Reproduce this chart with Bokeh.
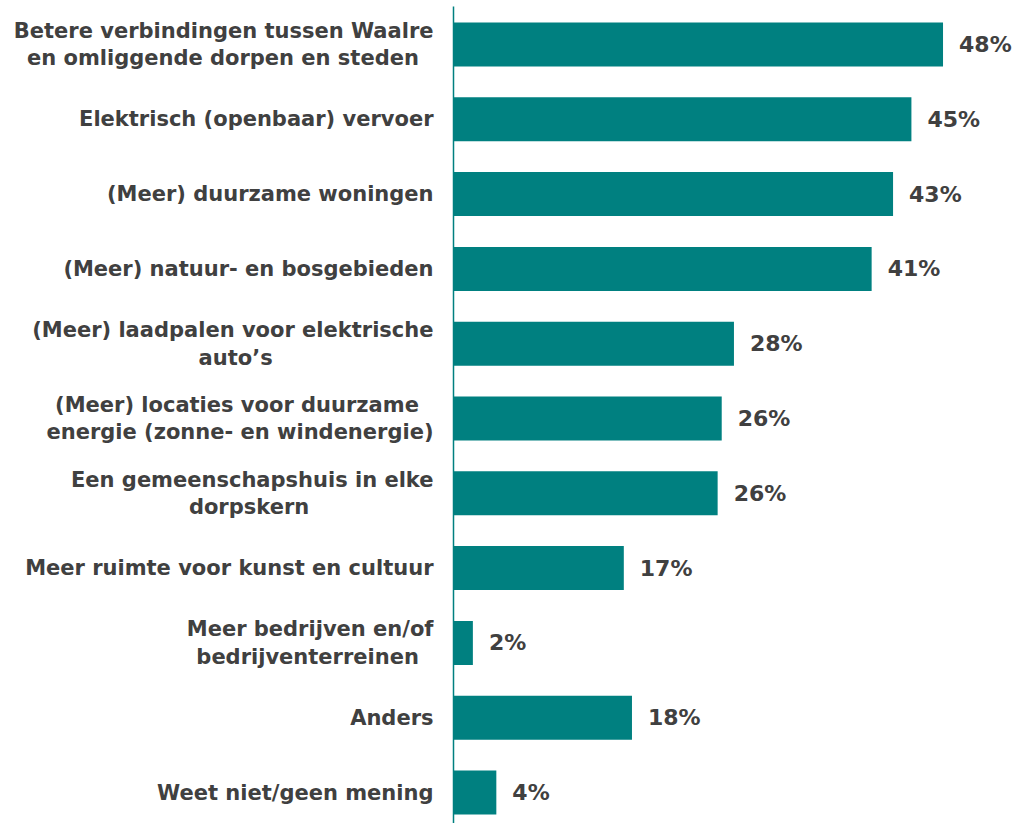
from bokeh.plotting import figure
from bokeh.models import ColumnDataSource, Range1d, FixedTicker
from bokeh.core.properties import value
from bokeh.embed import file_html
from bokeh.resources import INLINE

NB = "\u00a0"

categories = [
    "Betere verbindingen tussen Waalre\nen omliggende dorpen en steden" + NB * 2,
    "Elektrisch (openbaar) vervoer",
    "(Meer) duurzame woningen",
    "(Meer) natuur- en bosgebieden",
    "(Meer) laadpalen voor elektrische\nauto\u2019s" + NB * 22,
    "(Meer) locaties voor duurzame" + NB * 2 + "\nenergie (zonne- en windenergie)",
    "Een gemeenschapshuis in elke\ndorpskern" + NB * 17,
    "Meer ruimte voor kunst en cultuur",
    "Meer bedrijven en/of\nbedrijventerreinen" + NB * 2,
    "Anders",
    "Weet niet/geen mening",
]
values = [48.0, 44.9, 43.1, 41.0, 27.5, 26.3, 25.9, 16.7, 1.9, 17.5, 4.2]
value_labels = ["48%", "45%", "43%", "41%", "28%", "26%", "26%", "17%", "2%", "18%", "4%"]

pos = list(range(len(categories)))
src = ColumnDataSource(dict(y=pos, v=values, lab=value_labels))

TEAL = "#008080"
GREY = "#404040"
FONT = "DejaVu Sans"

p = figure(width=1018, height=823, output_backend="svg", toolbar_location=None,
           x_range=Range1d(0, 55.4), y_range=Range1d(10.414, -0.588),
           min_border_left=453, min_border_right=0, min_border_top=0, min_border_bottom=0)
p.outline_line_color = None
p.grid.visible = False
p.xaxis.visible = False

p.hbar(y="y", right="v", left=0, height=0.588, source=src, fill_color=TEAL, line_color=None)
p.text(x="v", y="y", text="lab", source=src, x_offset=16, text_align="left", text_baseline="middle",
       text_font=value(FONT), text_font_style="bold", text_font_size="22px", text_color=GREY)

ax = p.yaxis[0]
ax.ticker = FixedTicker(ticks=pos)
ax.major_label_overrides = {i: c for i, c in zip(pos, categories)}
ax.bounds = (-0.51, 10.414)
ax.major_tick_line_color = None
ax.minor_tick_line_color = None
ax.major_tick_out = 0
ax.major_tick_in = 0
ax.major_label_standoff = 20
ax.axis_line_color = TEAL
ax.axis_line_width = 1.5
ax.major_label_text_font = FONT
ax.major_label_text_font_style = "bold"
ax.major_label_text_font_size = "21px"
ax.major_label_text_line_height = 1.15
ax.major_label_text_color = GREY
ax.major_label_text_align = "right"

open("out.html", "w").write(file_html(p, INLINE))
